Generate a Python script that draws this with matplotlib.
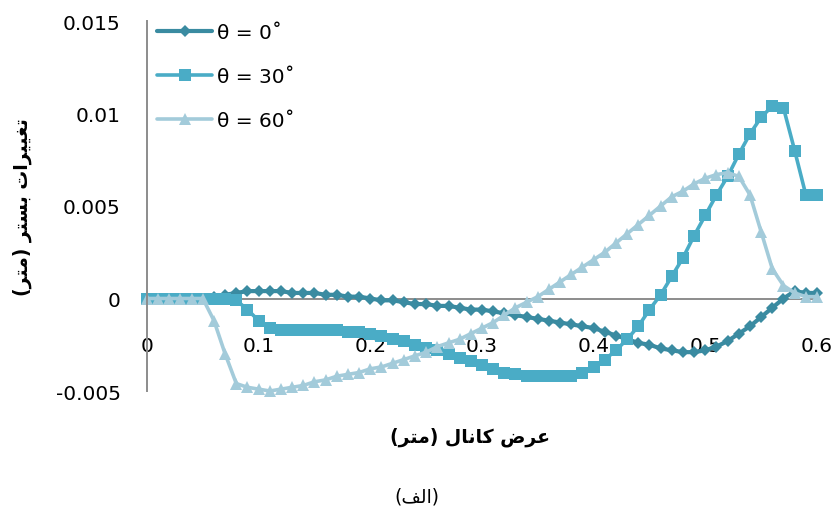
import numpy as np
import matplotlib
matplotlib.use("Agg")
import matplotlib.pyplot as plt

# Channel width positions (m)
width_m = [round(0.01 * i, 2) for i in range(61)]

# Bed level change (m) for each flow angle
theta_0 = [
    0, 0, 0, 0, 0, 0, 0.0001, 0.0002, 0.0003, 0.0004,
    0.0004, 0.0004, 0.0004, 0.0003, 0.0003, 0.0003, 0.0002, 0.0002, 0.0001, 0.0001,
    0.0000, -0.0001, -0.0001, -0.0002, -0.0003, -0.0003, -0.0004, -0.0004, -0.0005, -0.0006,
    -0.0006, -0.0007, -0.0008, -0.0009, -0.0010, -0.0011, -0.0012, -0.0013, -0.0014, -0.0015,
    -0.0016, -0.0018, -0.0020, -0.0022, -0.0024, -0.0025, -0.0027, -0.0028, -0.0029, -0.0029,
    -0.0028, -0.0026, -0.0023, -0.0019, -0.0015, -0.0010, -0.0005, 0.0000, 0.0004, 0.0003,
    0.0003,
]
theta_30 = [
    0, 0, 0, 0, 0, 0, 0, 0, -0.0001, -0.0006,
    -0.0012, -0.0016, -0.0017, -0.0017, -0.0017, -0.0017, -0.0017, -0.0017, -0.0018, -0.0018,
    -0.0019, -0.0020, -0.0022, -0.0023, -0.0025, -0.0027, -0.0028, -0.0030, -0.0032, -0.0034,
    -0.0036, -0.0038, -0.0040, -0.0041, -0.0042, -0.0042, -0.0042, -0.0042, -0.0042, -0.0040,
    -0.0037, -0.0033, -0.0028, -0.0022, -0.0015, -0.0006, 0.0002, 0.0012, 0.0022, 0.0034,
    0.0045, 0.0056, 0.0066, 0.0078, 0.0089, 0.0098, 0.0104, 0.0103, 0.0080, 0.0056,
    0.0056,
]
theta_60 = [
    0, 0, 0, 0, 0, 0, -0.0012, -0.0030, -0.0046, -0.0048,
    -0.0049, -0.0050, -0.0049, -0.0048, -0.0047, -0.0045, -0.0044, -0.0042, -0.0041, -0.0040,
    -0.0038, -0.0037, -0.0035, -0.0033, -0.0031, -0.0029, -0.0026, -0.0024, -0.0022, -0.0019,
    -0.0016, -0.0013, -0.0009, -0.0005, -0.0002, 0.0001, 0.0005, 0.0009, 0.0013, 0.0017,
    0.0021, 0.0025, 0.0030, 0.0035, 0.0040, 0.0045, 0.0050, 0.0055, 0.0058, 0.0062,
    0.0065, 0.0067, 0.0068, 0.0066, 0.0056, 0.0036, 0.0016, 0.0007, 0.0003, 0.0001,
    0.0001,
]

series_labels = ["θ = 0˚", "θ = 30˚", "θ = 60˚"]
x_ticks = [0, 0.1, 0.2, 0.3, 0.4, 0.5, 0.6]
x_tick_labels = ["0", "0.1", "0.2", "0.3", "0.4", "0.5", "0.6"]
y_ticks = [-0.005, 0, 0.005, 0.01, 0.015]
y_tick_labels = ["-0.005", "0", "0.005", "0.01", "0.015"]

y_title = "تغییرات بستر (متر)"
x_title = "عرض کانال (متر)"
caption = "(الف)"

# --- minimal Persian shaping (presentation forms + visual order) ---
FORMS = {  # isolated, final, initial, medial
    "ت": ("\uFE95", "\uFE96", "\uFE97", "\uFE98"),
    "غ": ("\uFECD", "\uFECE", "\uFECF", "\uFED0"),
    "ی": ("\uFEEF", "\uFEF0", "\uFEF3", "\uFEF4"),
    "ر": ("\uFEAD", "\uFEAE", None, None),
    "ا": ("\uFE8D", "\uFE8E", None, None),
    "ب": ("\uFE8F", "\uFE90", "\uFE91", "\uFE92"),
    "س": ("\uFEB1", "\uFEB2", "\uFEB3", "\uFEB4"),
    "م": ("\uFEE1", "\uFEE2", "\uFEE3", "\uFEE4"),
    "ع": ("\uFEC9", "\uFECA", "\uFECB", "\uFECC"),
    "ض": ("\uFEBD", "\uFEBE", "\uFEBF", "\uFEC0"),
    "ک": ("\uFED9", "\uFEDA", "\uFEDB", "\uFEDC"),
    "ن": ("\uFEE5", "\uFEE6", "\uFEE7", "\uFEE8"),
    "ل": ("\uFEDD", "\uFEDE", "\uFEDF", "\uFEE0"),
    "ف": ("\uFED1", "\uFED2", "\uFED3", "\uFED4"),
}


def joins_left(ch):
    return ch in FORMS and FORMS[ch][2] is not None


def shape_rtl(text):
    out = []
    n = len(text)
    for i, ch in enumerate(text):
        if ch not in FORMS:
            out.append(ch)
            continue
        prev_j = i > 0 and joins_left(text[i - 1])
        next_j = joins_left(ch) and i + 1 < n and text[i + 1] in FORMS
        iso, fin, ini, med = FORMS[ch]
        if prev_j and next_j:
            out.append(med)
        elif prev_j:
            out.append(fin)
        elif next_j:
            out.append(ini)
        else:
            out.append(iso)
    mirror = {"(": ")", ")": "("}
    return "".join(mirror.get(c, c) for c in reversed(out))


plt.rcParams["font.family"] = ["DejaVu Sans"]

W, H = 837, 510
fig = plt.figure(figsize=(W / 100, H / 100), dpi=100)
ax = fig.add_axes([147 / W, 1 - 392 / H, 670 / W, 370 / H])

colors = ["#3A8BA1", "#4AACC6", "#A3CBDA"]
markers = ["D", "s", "^"]
msizes = [6.3, 8.3, 8.8]
lws = [3.0, 2.6, 2.6]

for ys, lab, c, m, ms, lw in zip([theta_0, theta_30, theta_60], series_labels,
                                 colors, markers, msizes, lws):
    ax.plot(width_m, ys, color=c, marker=m, markersize=ms, linewidth=lw,
            markeredgewidth=0, label=lab, solid_joinstyle="round",
            solid_capstyle="round", clip_on=False)

ax.set_xlim(0, 0.6)
ax.set_ylim(-0.005, 0.015)

axis_gray = "#8C8C8C"
for s in ["top", "right"]:
    ax.spines[s].set_visible(False)
ax.spines["bottom"].set_position(("data", 0))
ax.spines["bottom"].set_color(axis_gray)
ax.spines["bottom"].set_linewidth(1.4)
ax.spines["bottom"].set_zorder(0.5)
ax.spines["left"].set_color(axis_gray)
ax.spines["left"].set_linewidth(1.4)

ax.set_xticks(x_ticks)
ax.set_xticklabels(x_tick_labels)
ax.set_yticks(y_ticks)
ax.set_yticklabels(y_tick_labels)
ax.tick_params(axis="both", length=0, labelsize=14.5, colors="black")
ax.tick_params(axis="x", pad=27)
ax.tick_params(axis="y", pad=19)

leg = fig.legend(loc="upper left", bbox_to_anchor=(157 / W, 1 - 24 / H),
                 frameon=False, fontsize=14.5, handlelength=2.75,
                 handletextpad=0.25, labelspacing=1.25, borderpad=0,
                 borderaxespad=0)

fig.text(22 / W, 1 - 207 / H, shape_rtl(y_title), rotation=90, ha="center",
         va="center", fontsize=13.5, fontweight="bold")
fig.text(470 / W, 1 - 437 / H, shape_rtl(x_title), ha="center", va="center",
         fontsize=13.5, fontweight="bold")
fig.text(417 / W, 1 - 497 / H, shape_rtl(caption), ha="center", va="center",
         fontsize=13.5)

fig.savefig("out.png", dpi=100)
